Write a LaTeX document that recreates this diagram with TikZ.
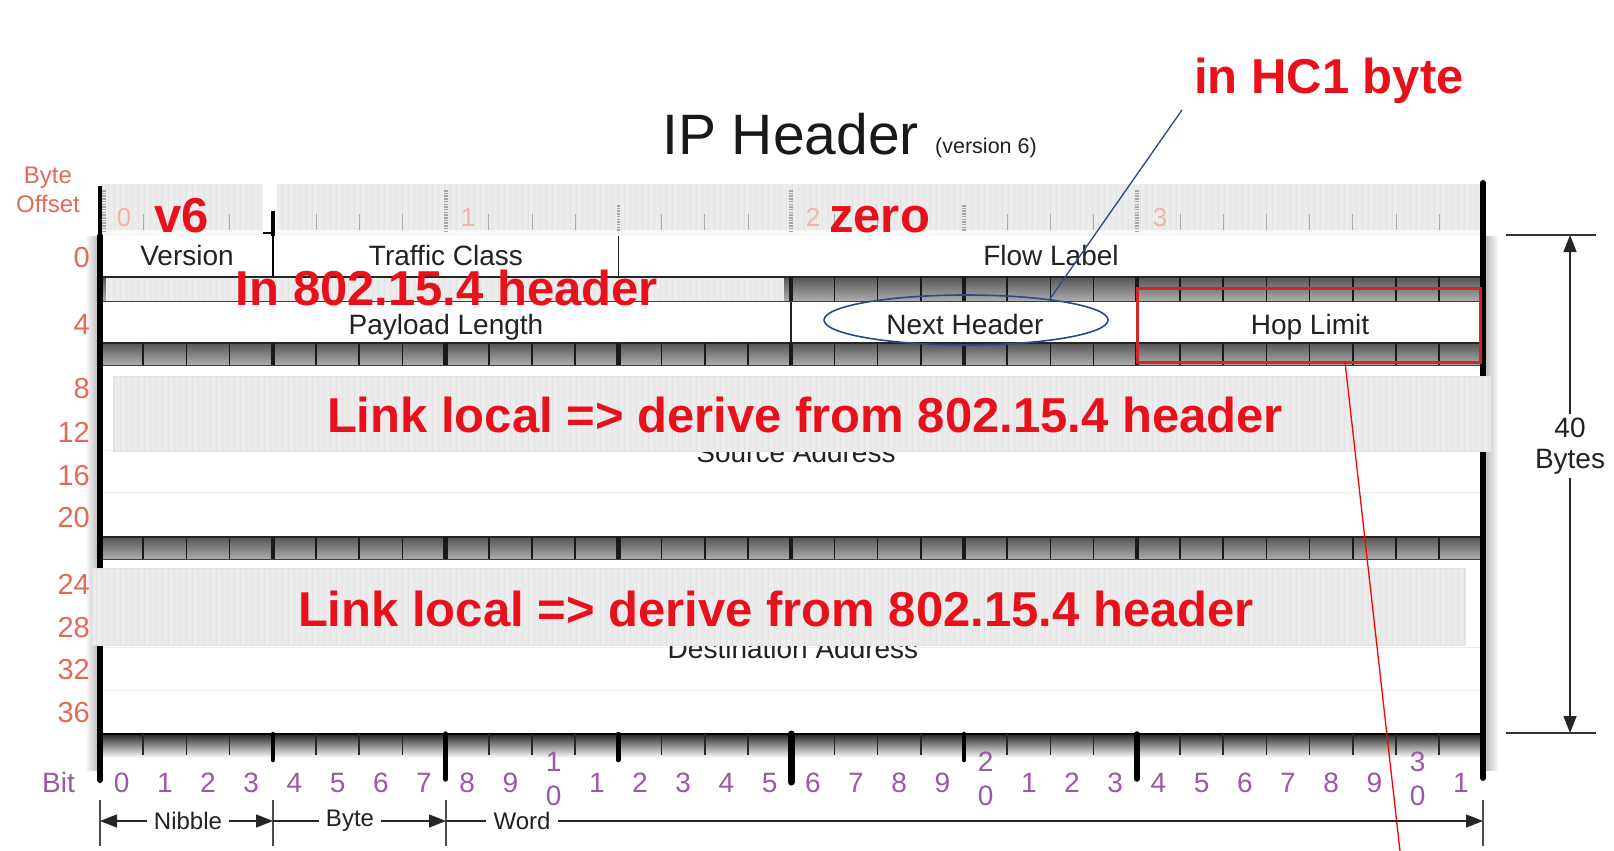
\documentclass[tikz,border=0pt]{standalone}
\usepackage{fontspec}
\setmainfont{Liberation Sans}
\usetikzlibrary{arrows.meta,shapes.geometric}
\definecolor{redtxt}{HTML}{E8101A}
\definecolor{offc}{HTML}{E56A55}
\definecolor{bitc}{HTML}{9A58A6}
\definecolor{fadec}{HTML}{F0B4A4}
\definecolor{ellc}{HTML}{2A4A82}
\definecolor{rectc}{HTML}{D42626}
\definecolor{tbtop}{HTML}{555555}
\definecolor{tbbot}{HTML}{ADADAD}
\definecolor{txtc}{HTML}{222222}
\definecolor{boxfill}{HTML}{ECECEC}
\definecolor{boxgrid}{HTML}{E3E3E3}
\newcommand\myfs[1]{\fontsize{#1}{#1}\selectfont}
\newcommand\tickbar[2]{%
  \shade[top color=tbtop, bottom color=tbbot] (100,#1) rectangle (1483,#2);
  \draw[line width=1.8pt, black!85] (100,#1) -- (1483,#1);
  \draw[line width=1pt, black!75] (100,#2) -- (1483,#2);
  \foreach \i in {1,...,31}{%
    \pgfmathtruncatemacro\tbm{mod(\i,4)}%
    \ifnum\tbm=0\relax
      \ifnum\i=28\relax\def\tblw{1.6}\else\def\tblw{4.5}\fi
    \else\def\tblw{1.6}\fi
    \draw[line width=\tblw pt, black!90] ({100+\i*43.2},#1) -- ({100+\i*43.2},#2);
  }%
}
\newcommand\gridbox[4]{%
  \fill[boxfill] (#1,#2) rectangle (#3,#4);
  \draw[boxgrid, line width=0.3pt, step=6] (#1,#2) grid (#3,#4);
}
\begin{document}
\begin{tikzpicture}[x=1pt,y=-1pt,
  field/.style={anchor=base, inner sep=0pt, text=txtc, font=\myfs{28}},
  redbig/.style={anchor=base, inner sep=0pt, text=redtxt, font=\bfseries\myfs{49}},
  offnum/.style={anchor=base east, inner sep=0pt, text=offc, font=\myfs{29}},
  bitnum/.style={anchor=base, inner sep=0pt, text=bitc, font=\myfs{28}},
  fadenum/.style={anchor=base, inner sep=0pt, text=fadec, font=\myfs{26}},
  dimtip/.style={-{Triangle[length=17pt,width=13pt]}, line width=1.3pt, black!85},
]
\useasboundingbox (0,0) rectangle (1614,851);
\fill[white] (0,0) rectangle (1614,851);

% shadows
\shade[left color=white, right color=gray!55] (85,236) rectangle (98,770);
\shade[left color=gray!55, right color=white] (1485,236) rectangle (1499,770);

% top ruler
\gridbox{100}{184}{263}{230}
\gridbox{277}{184}{1483}{230}
\fill[gray!6] (100,230) rectangle (263,236);
\fill[gray!6] (277,230) rectangle (1483,236);
\foreach \i in {1,2,3,5,6,7,9,10,11,13,14,15,17,18,19,21,22,23,25,26,27,28,29,30,31}
  \draw[gray!65, line width=1pt] ({100+\i*43.2},214) -- ({100+\i*43.2},230);
\foreach \xx in {104,446,791,1137}
  \draw[gray!70, line width=4pt, dash pattern=on 1.5pt off 1.2pt] (\xx,190) -- (\xx,231);
\foreach \i in {12,20}
  \draw[gray!70, line width=3.5pt, dash pattern=on 1.5pt off 1.2pt] ({100+\i*43.2},205) -- ({100+\i*43.2},231);
\node[fadenum] (r0) at (124,226) {0};
\node[fadenum] (r1) at (468,226) {1};
\node[fadenum] (r2) at (813,226) {2};
\node[fadenum] (r3) at (1160,226) {3};

% version divider (L mark)
\draw[line width=4pt] (273,211) -- (273,236);
\draw[line width=1.8pt] (273,236) -- (273,277);
\draw[line width=2.5pt] (263,233) -- (273,233);
\draw[line width=1.5pt, txtc] (618.4,236) -- (618.4,277);
\draw[line width=1.5pt, txtc] (791.2,301) -- (791.2,343);

% tick bars
\tickbar{277}{301}
\tickbar{343}{365}
\tickbar{537}{559}
\gridbox{106}{278}{784}{301}

% bottom tick bar
\shade[top color=black!85, bottom color=white] (100,734) rectangle (1483,758);
\draw[line width=2pt] (100,734) -- (1483,734);
\foreach \i in {1,...,31}
  \draw[line width=1.6pt, black!85] ({100+\i*43.2},734) -- ({100+\i*43.2},755);
\foreach \i in {4,12,20}
  \draw[line width=4.5pt, line cap=round] ({100+\i*43.2},734) -- ({100+\i*43.2},760);
\foreach \i in {8,24}
  \draw[line width=5.5pt, line cap=round] ({100+\i*43.2},734) -- ({100+\i*43.2},779);
\draw[line width=7pt, line cap=round] (791.2,734) -- (791.2,782);

% faint separators
\draw[gray!14, line width=1pt] (100,450) -- (1483,450);
\draw[gray!14, line width=1pt] (100,492) -- (1483,492);
\draw[gray!14, line width=1pt] (100,647) -- (1483,647);
\draw[gray!14, line width=1pt] (100,690) -- (1483,690);

% field texts
\node[field] (ver) at (187,265) {Version};
\node[field] (tc) at (446,265) {Traffic Class};
\node[field] (fl) at (1051,265) {Flow Label};
\node[field] (pl) at (446,334) {Payload Length};
\node[field] (nhtxt) at (965,334) {Next Header};
\node[field] (hl) at (1310,334) {Hop Limit};
\node[field] (src) at (796,462) {Source Address};
\node[field] (dst) at (793,658) {Destination Address};

% side bars
\draw[line width=3.5pt] (100,186) -- (100,236);
\draw[line width=6pt, line cap=round] (100,236) -- (100,780);
\draw[line width=6pt, line cap=round] (1483,183) -- (1483,778);

% grey overlay boxes
\gridbox{113}{376}{1490}{451}
\draw[gray!22, line width=0.8pt] (113,376) rectangle (1490,451);
\gridbox{92}{568}{1465}{645}
\draw[gray!22, line width=0.8pt] (92,568) rectangle (1465,645);

% red annotations
\node[redbig, anchor=base west] (v6) at (154,232) {v6};
\node[redbig, anchor=base west] (zero) at (829,232) {zero};
\node[redbig] (in802) at (447,305) {In 802.15.4 header};
\node[redbig] (ll1) at (805,432) {Link local => derive from 802.15.4 header};
\node[redbig] (ll2) at (776,626) {Link local => derive from 802.15.4 header};
\node[redbig, anchor=base west] (hc1) at (1194,93) {in HC1 byte};

% title
\node[anchor=base west, inner sep=0pt, font=\myfs{57}, text=black!90] (title) at (662,154) {IP Header};
\node[anchor=base west, inner sep=0pt, font=\myfs{21.5}, text=txtc] (titlev) at (935,153) {(version 6)};

% ellipse, rectangle, connectors
\node[ellipse, draw=ellc, line width=1.6pt, minimum width=284pt, minimum height=50pt, inner sep=0pt] (nhring) at (966,320) {};
\coordinate (hcstart) at (1182,110);
\draw[ellc, line width=1.3pt] (hcstart) -- (nhring.14);
\node[draw=rectc, line width=3pt, minimum width=343pt, minimum height=74pt, inner sep=0pt] (hoprect) at (1308.5,325) {};
\coordinate (redstart) at (1345,362);
\coordinate (redend) at (1400,851);
\draw[red, line width=1.3pt] (redstart) -- (redend);

% byte offsets
\node[anchor=base, inner sep=0pt, text=offc, font=\myfs{24}] (bo1) at (48,183) {Byte};
\node[anchor=base, inner sep=0pt, text=offc, font=\myfs{24}] (bo2) at (48,212) {Offset};
\foreach \v/\yy in {0/267,4/334,8/398,12/442,16/485,20/527,24/594,28/637,32/679,36/722}
  \node[offnum] (off\v) at (90,\yy) {\v};

% bit labels
\node[bitnum, anchor=base west] (bitlbl) at (42,792) {Bit};
\foreach \i in {0,...,31}{%
  \pgfmathtruncatemacro\dg{mod(\i,10)}%
  \pgfmathtruncatemacro\tn{div(\i,10)}%
  \pgfmathsetmacro\bx{121.6+\i*43.2}%
  \ifnum\dg=0\relax
    \ifnum\i=0\relax
      \node[bitnum] (bit\i) at (\bx,792) {0};
    \else
      \node[bitnum] (bitt\i) at (\bx,771) {\tn};
      \node[bitnum] (bit\i) at (\bx,805) {0};
    \fi
  \else
    \node[bitnum] (bit\i) at (\bx,792) {\dg};
  \fi
}

% bottom span arrows
\foreach \xx/\nm in {100/m0,273/m4,446/m8,1483/m32}{
  \coordinate (\nm) at (\xx,821);
  \draw[black!70, line width=1.2pt] (\xx,800) -- (\xx,846);
}
\node[inner sep=7pt, text=txtc, font=\myfs{24}] (nib) at (188,821) {Nibble};
\node[inner sep=7pt, text=txtc, font=\myfs{24}] (byt) at (350,821) {Byte};
\node[inner sep=7pt, text=txtc, font=\myfs{24}] (wrd) at (522,821) {Word};
\draw[dimtip] (nib.west) -- (m0);
\draw[dimtip] (nib.east) -- (m4);
\draw[line width=1.3pt, black!85] (m4) -- (byt.west);
\draw[dimtip] (byt.east) -- (m8);
\draw[line width=1.3pt, black!85] (m8) -- (wrd.west);
\draw[dimtip] (wrd.east) -- (m32);

% 40 bytes dimension
\coordinate (dimtopl) at (1506,235);
\coordinate (dimtopr) at (1596,235);
\coordinate (dimbotl) at (1506,733);
\coordinate (dimbotr) at (1596,733);
\coordinate (dimtop) at (1570,235);
\coordinate (dimbot) at (1570,733);
\draw[line width=1.2pt, black!80] (dimtopl) -- (dimtopr);
\draw[line width=1.2pt, black!80] (dimbotl) -- (dimbotr);
\node[align=center, inner sep=4pt, text=txtc, font=\fontsize{28}{31}\selectfont] (dimtxt) at (1570,446) {40\\Bytes};
\draw[dimtip] (dimtxt.north) -- (dimtop);
\draw[dimtip] (dimtxt.south) -- (dimbot);
\end{tikzpicture}
\end{document}
